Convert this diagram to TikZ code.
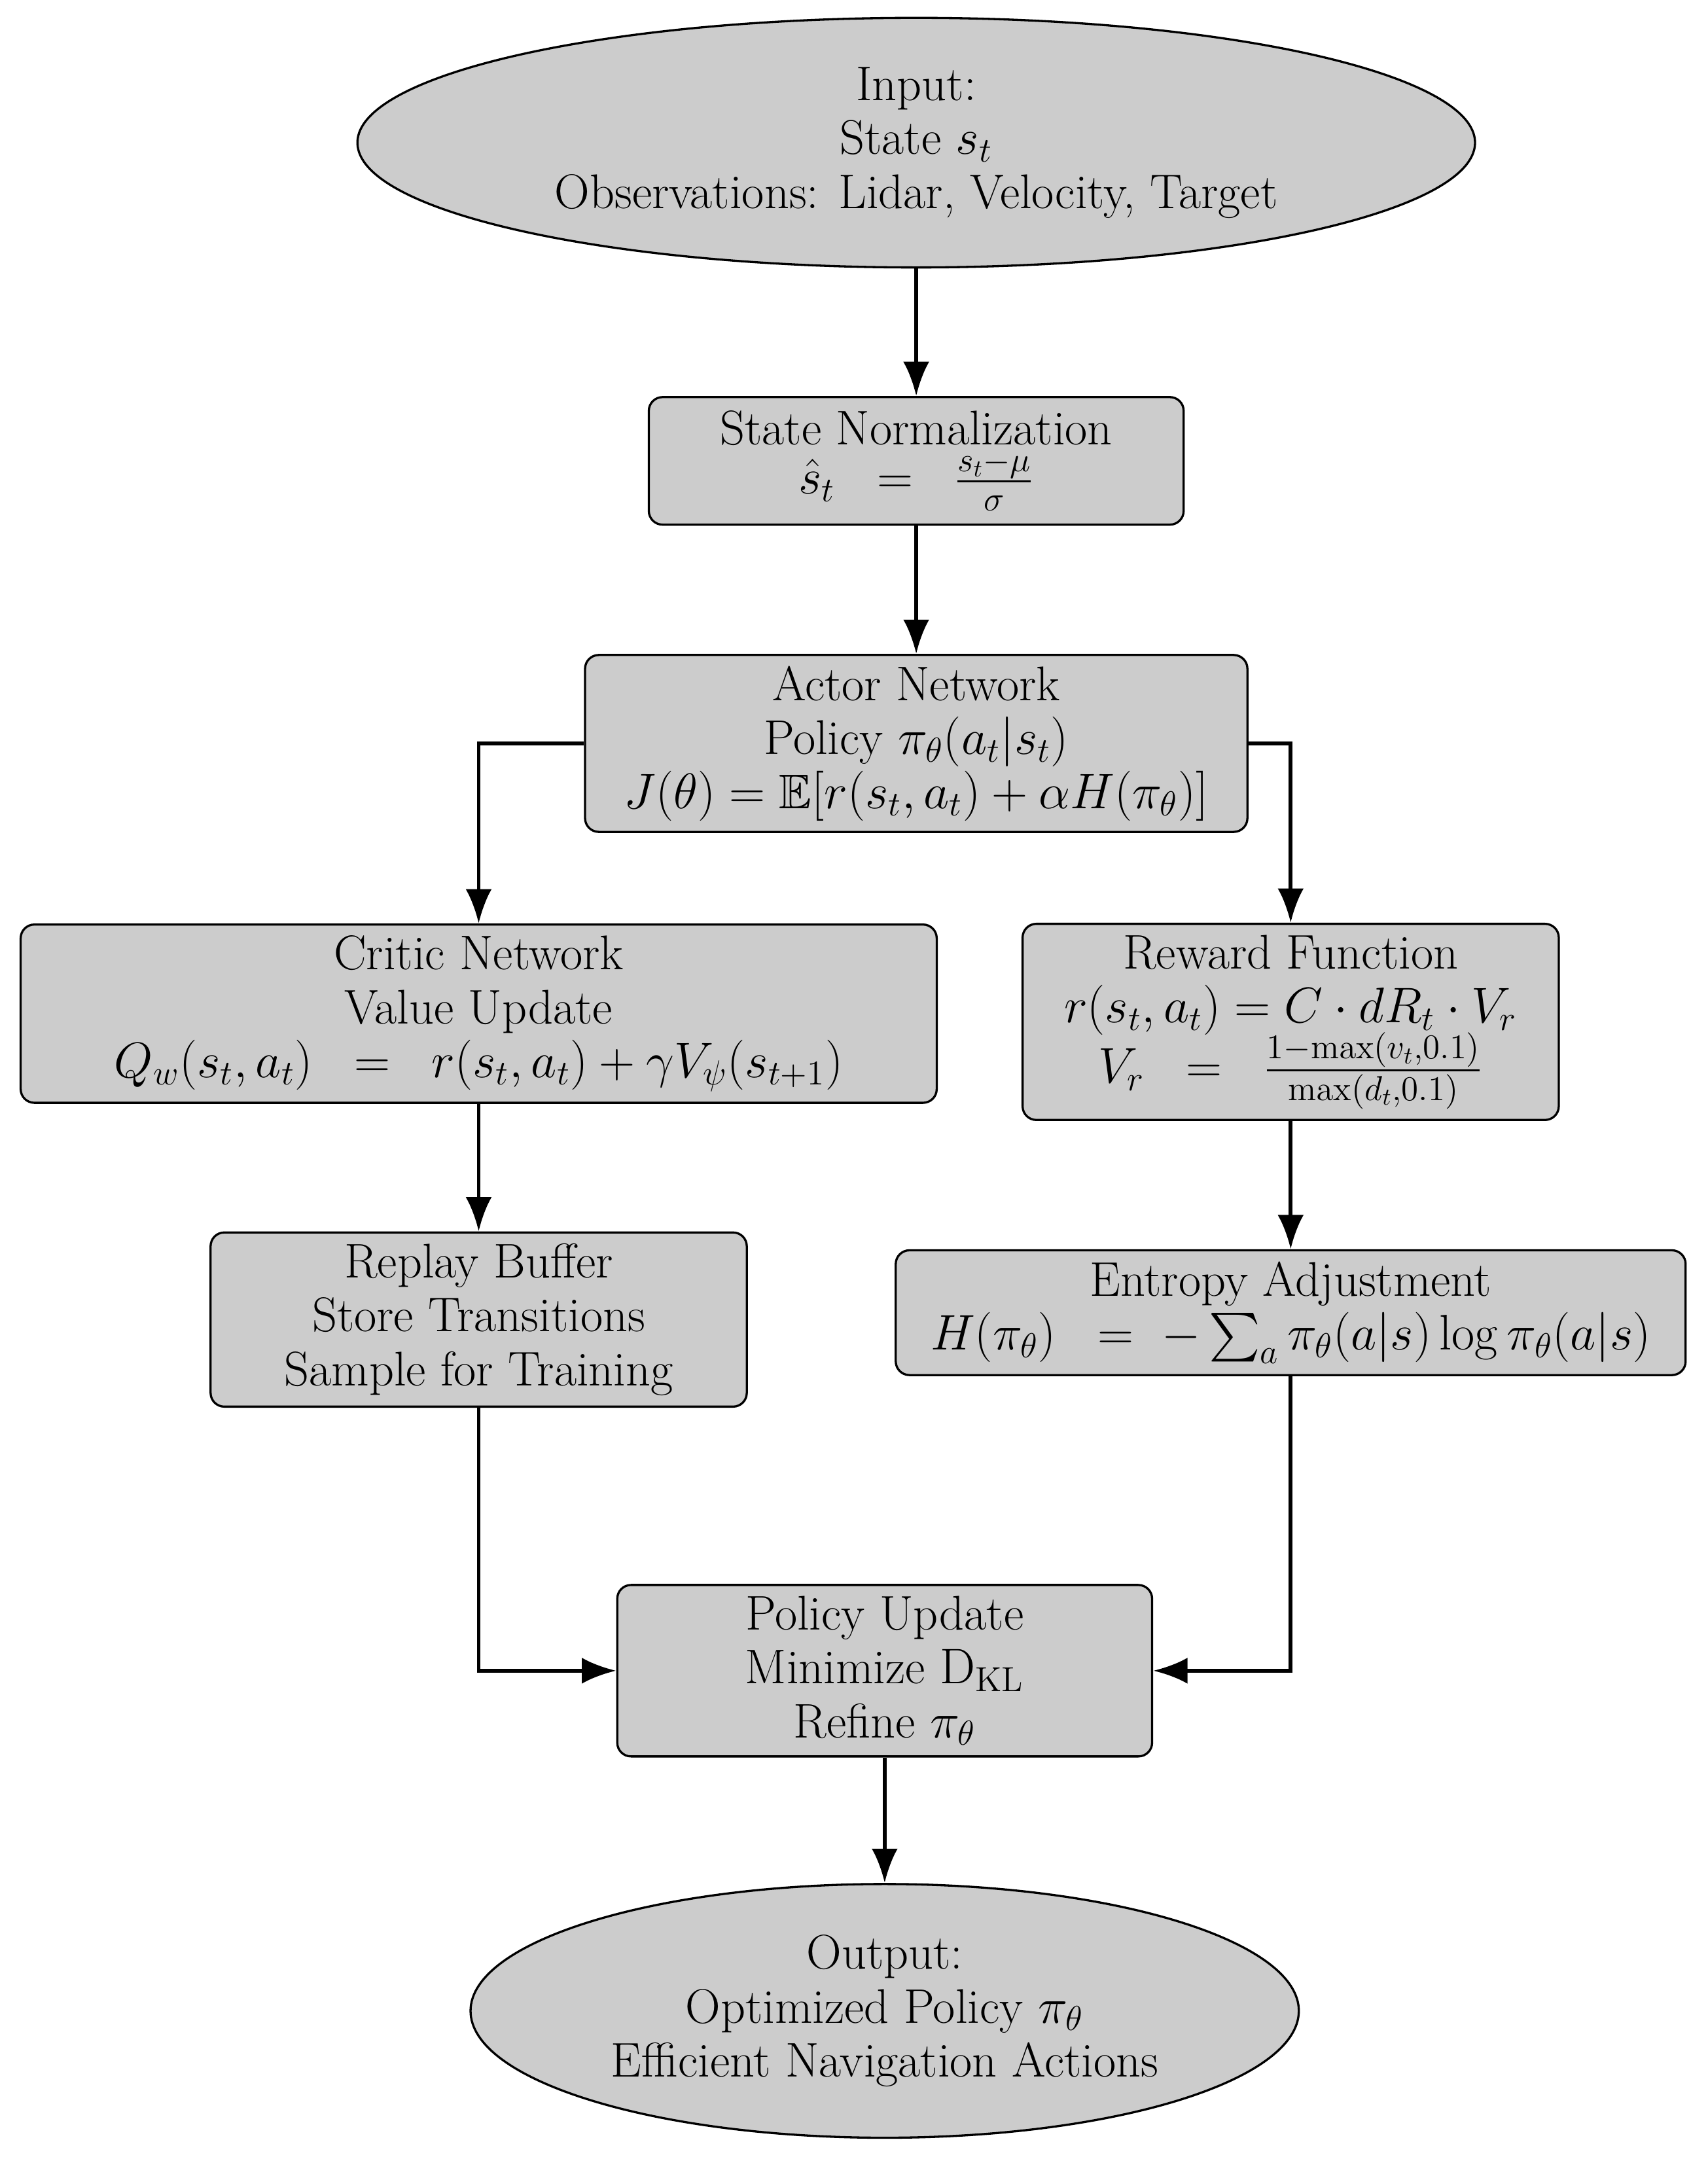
\documentclass[tikz,border=0pt]{standalone}
\usepackage{amsmath,amssymb}
\usetikzlibrary{shapes.geometric,arrows.meta}
\begin{document}
\begin{tikzpicture}[x=0.02cm,y=-0.02cm,
  box/.style={draw,fill=black!20,rounded corners=0.2cm,line width=0.9pt,inner sep=0,align=center,font=\fontsize{20.2}{22.4}\selectfont},
  ell/.style={draw,fill=black!20,ellipse,line width=0.9pt,inner sep=0,align=center,font=\fontsize{20.2}{22.4}\selectfont},
  arr/.style={line width=1.6pt,-{Latex[length=0.5cm,width=0.38cm]}}]
\useasboundingbox (0,0) rectangle (1245,1574);
\node[ell,minimum width=16.3cm,minimum height=3.64cm] (in) at (668,104) {Input:\\State $s_t$\\Observations: Lidar, Velocity, Target};
\node[box,minimum width=7.8cm,minimum height=1.86cm] (norm) at (668,336) {State Normalization\\[-2pt]$\hat{s}_t \;\;=\;\; \frac{s_t-\mu}{\sigma}$};
\node[box,minimum width=9.66cm,minimum height=2.58cm] (actor) at (668,542) {Actor Network\\Policy $\pi_\theta(a_t|s_t)$\\$J(\theta)=\mathbb{E}[r(s_t,a_t)+\alpha H(\pi_\theta)]$};
\node[box,minimum width=13.36cm,minimum height=2.6cm] (critic) at (349,739) {Critic Network\\Value Update\\$Q_w(s_t,a_t)\;\;=\;\;r(s_t,a_t)+\gamma V_\psi(s_{t+1})$};
\node[box,minimum width=7.82cm,minimum height=2.86cm] (reward) at (941,745) {Reward Function\\$r(s_t,a_t)=C\cdot dR_t\cdot V_r$\\[-2pt]$V_r\;\;=\;\;\frac{1-\max(v_t,0.1)}{\max(d_t,0.1)}$};
\node[box,minimum width=7.82cm,minimum height=2.54cm] (replay) at (349,962) {Replay Buffer\\Store Transitions\\Sample for Training};
\node[box,minimum width=11.52cm,minimum height=1.82cm] (ent) at (941,957) {Entropy Adjustment\\$H(\pi_\theta)\;\;=\;-\sum_a\pi_\theta(a|s)\log\pi_\theta(a|s)$};
\node[box,minimum width=7.8cm,minimum height=2.5cm] (pol) at (645,1218) {Policy Update\\Minimize $\mathrm{D}_{\mathrm{KL}}$\\Refine $\pi_\theta$};
\node[ell,minimum width=12.08cm,minimum height=3.7cm] (out) at (645,1466) {Output:\\Optimized Policy $\pi_\theta$\\Efficient Navigation Actions};
\draw[arr] (in) -- (norm);
\draw[arr] (norm) -- (actor);
\draw[arr] (actor.west) -| (critic.north);
\draw[arr] (actor.east) -| (reward.north);
\draw[arr] (critic) -- (replay);
\draw[arr] (reward) -- (ent);
\draw[arr] (replay.south) |- (pol.west);
\draw[arr] (ent.south) |- (pol.east);
\draw[arr] (pol) -- (out);
\end{tikzpicture}
\end{document}
